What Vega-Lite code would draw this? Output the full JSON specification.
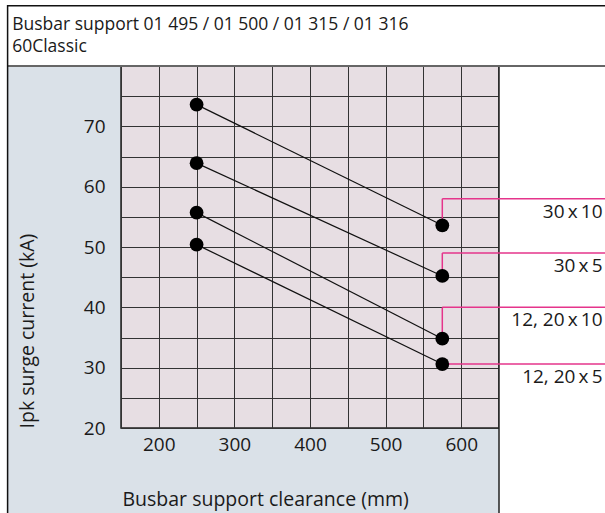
{
  "$schema": "https://vega.github.io/schema/vega-lite/v6.json",
  "width": 378,
  "height": 362,
  "autosize": {"type": "none"},
  "padding": {"left": 121, "top": 66, "right": 106, "bottom": 85},
  "background": "#dae1e8",
  "config": {
    "font": "Open Sans",
    "view": {"stroke": "#222222", "strokeWidth": 1.5, "fill": "#e7dee3"},
    "axis": {
      "grid": true,
      "gridColor": "#333333",
      "gridOpacity": 1,
      "gridWidth": 1,
      "ticks": false,
      "domain": false,
      "labelFontSize": 19,
      "labelColor": "#1a1a1a",
      "titleFontSize": 19.5,
      "titleFontWeight": "normal",
      "titleColor": "#1a1a1a"
    }
  },
  "datasets": {
    "series": [
      {"series": "30\u2009x\u200910", "clearance": 250, "current": 73.6},
      {"series": "30\u2009x\u200910", "clearance": 575, "current": 53.6},
      {"series": "30\u2009x\u20095", "clearance": 250, "current": 63.9},
      {"series": "30\u2009x\u20095", "clearance": 575, "current": 45.2},
      {"series": "12, 20\u2009x\u200910", "clearance": 250, "current": 55.7},
      {"series": "12, 20\u2009x\u200910", "clearance": 575, "current": 34.8},
      {"series": "12, 20\u2009x\u20095", "clearance": 250, "current": 50.4},
      {"series": "12, 20\u2009x\u20095", "clearance": 575, "current": 30.6}
    ],
    "labels": [
      {"series": "30\u2009x\u200910", "clearance": 575, "current": 53.6, "level": 58},
      {"series": "30\u2009x\u20095", "clearance": 575, "current": 45.2, "level": 49},
      {"series": "12, 20\u2009x\u200910", "clearance": 575, "current": 34.8, "level": 40},
      {"series": "12, 20\u2009x\u20095", "clearance": 575, "current": 30.6, "level": 30.6}
    ],
    "heading": [
      {"title": ["Busbar support 01 495 / 01 500 / 01 315 / 01 316", "60Classic"]}
    ],
    "one": [{}]
  },
  "encoding": {
    "x": {
      "type": "quantitative",
      "scale": {"domain": [150, 650], "nice": false, "zero": false},
      "axis": {
        "values": [150, 200, 250, 300, 350, 400, 450, 500, 550, 600, 650],
        "labelExpr": "datum.value % 100 === 0 && datum.value > 150 && datum.value < 650 ? datum.label : ''",
        "labelBaseline": "alphabetic",
        "labelPadding": 22,
        "title": "Busbar support clearance (mm)",
        "titleAnchor": "start",
        "titleAlign": "left",
        "titleX": 1,
        "titleY": 77,
        "titleBaseline": "alphabetic"
      }
    },
    "y": {
      "type": "quantitative",
      "scale": {"domain": [20, 80], "nice": false, "zero": false},
      "axis": {
        "values": [20, 25, 30, 35, 40, 45, 50, 55, 60, 65, 70, 75, 80],
        "labelExpr": "datum.value % 10 === 0 && datum.value < 80 ? datum.label : ''",
        "labelPadding": 16,
        "title": "Ipk surge current (kA)",
        "titleAnchor": "start",
        "titleAlign": "left",
        "titleAngle": -90,
        "titleX": -88,
        "titleY": 362,
        "titleBaseline": "alphabetic"
      }
    }
  },
  "layer": [
    {
      "data": {"name": "one"},
      "mark": {"type": "rect", "fill": "#ffffff"},
      "encoding": {
        "x": {"datum": -100, "type": "quantitative"},
        "x2": {"datum": 900},
        "y": {"datum": 80, "type": "quantitative"},
        "y2": {"datum": 100}
      }
    },
    {
      "data": {"name": "one"},
      "mark": {"type": "rect", "fill": "#ffffff"},
      "encoding": {
        "x": {"datum": -100, "type": "quantitative"},
        "x2": {"datum": 0},
        "y": {"datum": 100, "type": "quantitative"},
        "y2": {"datum": -10}
      }
    },
    {
      "data": {"name": "one"},
      "mark": {"type": "rect", "fill": "#ffffff"},
      "encoding": {
        "x": {"datum": 650, "type": "quantitative"},
        "x2": {"datum": 900},
        "y": {"datum": 80, "type": "quantitative"},
        "y2": {"datum": -10}
      }
    },
    {
      "data": {"name": "one"},
      "mark": {"type": "rule", "color": "#222222", "strokeWidth": 1.5},
      "encoding": {
        "x": {"datum": 650, "type": "quantitative"},
        "y": {"datum": 80, "type": "quantitative"},
        "y2": {"datum": -10}
      }
    },
    {
      "data": {"name": "one"},
      "mark": {"type": "rule", "color": "#666666", "strokeWidth": 2},
      "encoding": {
        "x": {"datum": 0, "type": "quantitative"},
        "x2": {"datum": 900},
        "y": {"datum": 80, "type": "quantitative"}
      }
    },
    {
      "data": {"name": "one"},
      "mark": {"type": "rect", "filled": false, "stroke": "#111111", "strokeWidth": 1.5},
      "encoding": {
        "x": {"datum": 0, "type": "quantitative"},
        "x2": {"datum": 900},
        "y": {"datum": 90, "type": "quantitative"},
        "y2": {"datum": -10}
      }
    },
    {
      "data": {"name": "heading"},
      "mark": {"type": "text", "align": "left", "baseline": "alphabetic", "fontSize": 17.5, "lineHeight": 22, "color": "#1a1a1a"},
      "encoding": {
        "x": {"datum": 6, "type": "quantitative"},
        "y": {"datum": 86, "type": "quantitative"},
        "text": {"field": "title"}
      }
    },
    {
      "data": {"name": "labels"},
      "mark": {"type": "rule", "color": "#e5348b", "strokeWidth": 1.5},
      "encoding": {
        "x": {"field": "clearance", "type": "quantitative"},
        "y": {"field": "current", "type": "quantitative"},
        "y2": {"field": "level"}
      }
    },
    {
      "data": {"name": "labels"},
      "mark": {"type": "rule", "color": "#e5348b", "strokeWidth": 1.5},
      "encoding": {
        "x": {"field": "clearance", "type": "quantitative"},
        "x2": {"datum": 800},
        "y": {"field": "level", "type": "quantitative"}
      }
    },
    {
      "data": {"name": "labels"},
      "mark": {"type": "text", "align": "right", "baseline": "top", "dy": 4, "fontSize": 19, "color": "#1a1a1a"},
      "encoding": {
        "x": {"datum": 787, "type": "quantitative"},
        "y": {"field": "level", "type": "quantitative"},
        "text": {"field": "series"}
      }
    },
    {
      "data": {"name": "series"},
      "mark": {"type": "line", "color": "#111111", "strokeWidth": 1.2},
      "encoding": {
        "x": {"field": "clearance", "type": "quantitative"},
        "y": {"field": "current", "type": "quantitative"},
        "detail": {"field": "series"}
      }
    },
    {
      "data": {"name": "series"},
      "mark": {"type": "point", "filled": true, "color": "#000000", "size": 190, "opacity": 1},
      "encoding": {
        "x": {"field": "clearance", "type": "quantitative"},
        "y": {"field": "current", "type": "quantitative"}
      }
    }
  ]
}
